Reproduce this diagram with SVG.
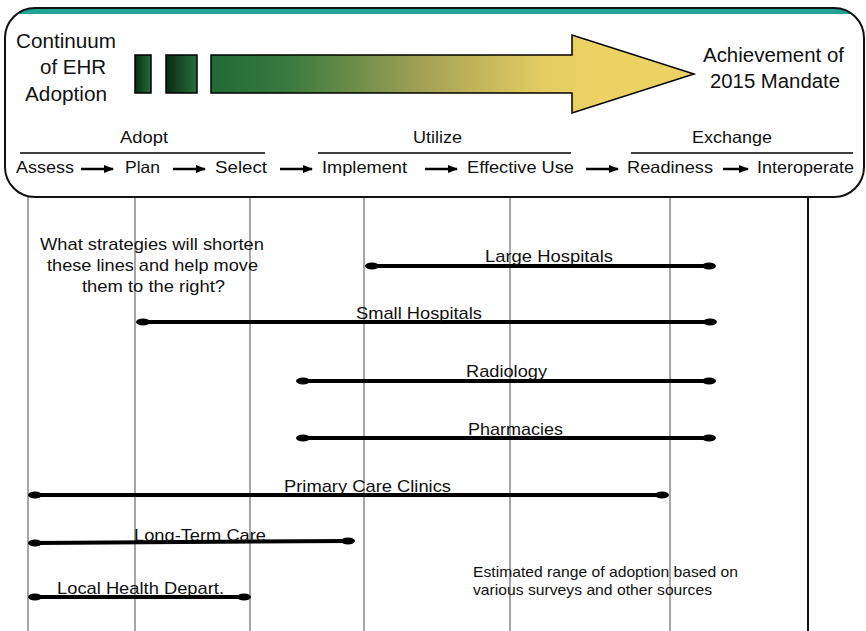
<svg xmlns="http://www.w3.org/2000/svg" width="866" height="631" viewBox="0 0 866 631">
  <style>
    text { font-family: "Liberation Sans", Arial, sans-serif; fill: #111; }
    .big { font-size: 20.5px; }
    .mid { font-size: 20px; }
    .stage { font-size: 16.5px; }
    .phase { font-size: 16.5px; }
    .q { font-size: 17px; }
    .lbl { font-size: 17px; }
    .note { font-size: 14.5px; }
    .grid { stroke: #888; stroke-width: 1.5; }
    .bar { stroke: #000; stroke-width: 4; fill: none; }
    .cap { fill: #000; }
    .rule { stroke: #000; stroke-width: 1.5; }
    .conn { stroke: #000; stroke-width: 2.5; fill: none; }
  </style>
  <defs>
    <linearGradient id="gSmall" x1="0" y1="0" x2="1" y2="0">
      <stop offset="0" stop-color="#0b2a14"/>
      <stop offset="1" stop-color="#23703a"/>
    </linearGradient>
    <linearGradient id="gArrow" gradientUnits="userSpaceOnUse" x1="211" y1="0" x2="600" y2="0">
      <stop offset="0" stop-color="#1f6a36"/>
      <stop offset="0.2" stop-color="#3a7a3e"/>
      <stop offset="0.55" stop-color="#a4a255"/>
      <stop offset="0.85" stop-color="#e4cc62"/>
      <stop offset="1" stop-color="#ecd262"/>
    </linearGradient>
    <clipPath id="panelClip">
      <rect x="5" y="8" width="859" height="189" rx="30" ry="30"/>
    </clipPath>
    <marker id="ah" viewBox="0 0 10 10" refX="9" refY="5" markerWidth="4" markerHeight="4" orient="auto" markerUnits="strokeWidth">
      <path d="M0,1 L10,5 L0,9 Z" fill="#000"/>
    </marker>
  </defs>

  <!-- stage columns -->
  <g id="columns">
    <line class="grid" x1="28" y1="197" x2="28" y2="631"/>
    <line class="grid" x1="135" y1="197" x2="135" y2="631"/>
    <line class="grid" x1="250" y1="197" x2="250" y2="631"/>
    <line class="grid" x1="364" y1="197" x2="364" y2="631"/>
    <line class="grid" x1="510" y1="197" x2="510" y2="631"/>
    <line class="grid" x1="670" y1="197" x2="670" y2="631"/>
    <line x1="808" y1="197" x2="808" y2="631" stroke="#111" stroke-width="2"/>
  </g>

  <!-- header panel -->
  <g id="panel">
    <rect x="5" y="8" width="859" height="189" rx="30" ry="30" fill="#fff"/>
    <rect x="0" y="9" width="866" height="5" fill="#22a398" clip-path="url(#panelClip)"/>
    <rect x="5" y="8" width="859" height="189" rx="30" ry="30" fill="none" stroke="#111" stroke-width="2"/>
  </g>

  <g id="title">
    <text class="big" x="16" y="48" textLength="100" lengthAdjust="spacingAndGlyphs">Continuum</text>
    <text class="big" x="40" y="74" textLength="66" lengthAdjust="spacingAndGlyphs">of EHR</text>
    <text class="big" x="25" y="101" textLength="82" lengthAdjust="spacingAndGlyphs">Adoption</text>
  </g>

  <g id="progress-arrow">
    <rect x="135" y="55" width="16" height="38" fill="url(#gSmall)" stroke="#000" stroke-width="1.5"/>
    <rect x="166" y="55" width="31" height="38" fill="url(#gSmall)" stroke="#000" stroke-width="1.5"/>
    <path d="M211,55 L572,55 L572,35 L694,74 L572,113 L572,93 L211,93 Z" fill="url(#gArrow)" stroke="#000" stroke-width="1.5"/>
  </g>

  <g id="goal">
    <text class="mid" x="703" y="62" textLength="141" lengthAdjust="spacingAndGlyphs">Achievement of</text>
    <text class="mid" x="710" y="88" textLength="130" lengthAdjust="spacingAndGlyphs">2015 Mandate</text>
  </g>

  <g id="phase-adopt">
    <text class="phase" x="120" y="143" textLength="48" lengthAdjust="spacingAndGlyphs">Adopt</text>
    <line class="rule" x1="20" y1="153" x2="265" y2="153"/>
  </g>
  <g id="phase-utilize">
    <text class="phase" x="413" y="143" textLength="49" lengthAdjust="spacingAndGlyphs">Utilize</text>
    <line class="rule" x1="318" y1="153" x2="571" y2="153"/>
  </g>
  <g id="phase-exchange">
    <text class="phase" x="692" y="143" textLength="80" lengthAdjust="spacingAndGlyphs">Exchange</text>
    <line class="rule" x1="631" y1="153" x2="853" y2="153"/>
  </g>

  <g id="stages">
    <text class="stage" x="16" y="173" textLength="58" lengthAdjust="spacingAndGlyphs">Assess</text>
    <text class="stage" x="125" y="173" textLength="35" lengthAdjust="spacingAndGlyphs">Plan</text>
    <text class="stage" x="215" y="173" textLength="52" lengthAdjust="spacingAndGlyphs">Select</text>
    <text class="stage" x="322" y="173" textLength="85" lengthAdjust="spacingAndGlyphs">Implement</text>
    <text class="stage" x="467" y="173" textLength="107" lengthAdjust="spacingAndGlyphs">Effective Use</text>
    <text class="stage" x="627" y="173" textLength="86" lengthAdjust="spacingAndGlyphs">Readiness</text>
    <text class="stage" x="757" y="173" textLength="97" lengthAdjust="spacingAndGlyphs">Interoperate</text>
  </g>

  <g id="stage-connectors">
    <line class="conn" x1="81" y1="169" x2="113" y2="169" marker-end="url(#ah)"/>
    <line class="conn" x1="173" y1="169" x2="205" y2="169" marker-end="url(#ah)"/>
    <line class="conn" x1="280" y1="169" x2="312" y2="169" marker-end="url(#ah)"/>
    <line class="conn" x1="425" y1="169" x2="457" y2="169" marker-end="url(#ah)"/>
    <line class="conn" x1="586" y1="169" x2="618" y2="169" marker-end="url(#ah)"/>
    <line class="conn" x1="723" y1="169" x2="748" y2="169" marker-end="url(#ah)"/>
  </g>

  <g id="question">
    <text class="q" x="40" y="250" textLength="224" lengthAdjust="spacingAndGlyphs">What strategies will shorten</text>
    <text class="q" x="47" y="271" textLength="211" lengthAdjust="spacingAndGlyphs">these lines and help move</text>
    <text class="q" x="82" y="292" textLength="143" lengthAdjust="spacingAndGlyphs">them to the right?</text>
  </g>

  <!-- adoption ranges -->
  <g id="large-hospitals">
    <line class="bar" x1="372" y1="266" x2="709" y2="266"/>
    <ellipse class="cap" cx="372" cy="266" rx="7" ry="3.5"/>
    <ellipse class="cap" cx="709" cy="266" rx="7" ry="3.5"/>
    <text class="lbl" x="485" y="262" textLength="128" lengthAdjust="spacingAndGlyphs">Large Hospitals</text>
  </g>
  <g id="small-hospitals">
    <line class="bar" x1="143" y1="322" x2="710" y2="322"/>
    <ellipse class="cap" cx="143" cy="322" rx="7" ry="3.5"/>
    <ellipse class="cap" cx="710" cy="322" rx="7" ry="3.5"/>
    <text class="lbl" x="356" y="319" textLength="126" lengthAdjust="spacingAndGlyphs">Small Hospitals</text>
  </g>
  <g id="radiology">
    <line class="bar" x1="303" y1="381" x2="709" y2="381"/>
    <ellipse class="cap" cx="303" cy="381" rx="7" ry="3.5"/>
    <ellipse class="cap" cx="709" cy="381" rx="7" ry="3.5"/>
    <text class="lbl" x="466" y="377" textLength="81" lengthAdjust="spacingAndGlyphs">Radiology</text>
  </g>
  <g id="pharmacies">
    <line class="bar" x1="303" y1="438" x2="709" y2="438"/>
    <ellipse class="cap" cx="303" cy="438" rx="7" ry="3.5"/>
    <ellipse class="cap" cx="709" cy="438" rx="7" ry="3.5"/>
    <text class="lbl" x="468" y="435" textLength="95" lengthAdjust="spacingAndGlyphs">Pharmacies</text>
  </g>
  <g id="primary-care-clinics">
    <line class="bar" x1="35" y1="495" x2="662" y2="495"/>
    <ellipse class="cap" cx="35" cy="495" rx="7" ry="3.5"/>
    <ellipse class="cap" cx="662" cy="495" rx="7" ry="3.5"/>
    <text class="lbl" x="284" y="492" textLength="167" lengthAdjust="spacingAndGlyphs">Primary Care Clinics</text>
  </g>
  <g id="long-term-care">
    <line class="bar" x1="35" y1="543" x2="348" y2="541"/>
    <ellipse class="cap" cx="35" cy="543" rx="7" ry="3.5"/>
    <ellipse class="cap" cx="348" cy="541" rx="7" ry="3.5"/>
    <text class="lbl" x="134" y="541" textLength="132" lengthAdjust="spacingAndGlyphs">Long-Term Care</text>
  </g>
  <g id="local-health">
    <line class="bar" x1="35" y1="597" x2="244" y2="597"/>
    <ellipse class="cap" cx="35" cy="597" rx="7" ry="3.5"/>
    <ellipse class="cap" cx="244" cy="597" rx="7" ry="3.5"/>
    <text class="lbl" x="57" y="594" textLength="167" lengthAdjust="spacingAndGlyphs">Local Health Depart.</text>
  </g>

  <g id="footnote">
    <text class="note" x="473" y="577" textLength="265" lengthAdjust="spacingAndGlyphs">Estimated range of adoption based on</text>
    <text class="note" x="473" y="595" textLength="239" lengthAdjust="spacingAndGlyphs">various surveys and other sources</text>
  </g>
</svg>
